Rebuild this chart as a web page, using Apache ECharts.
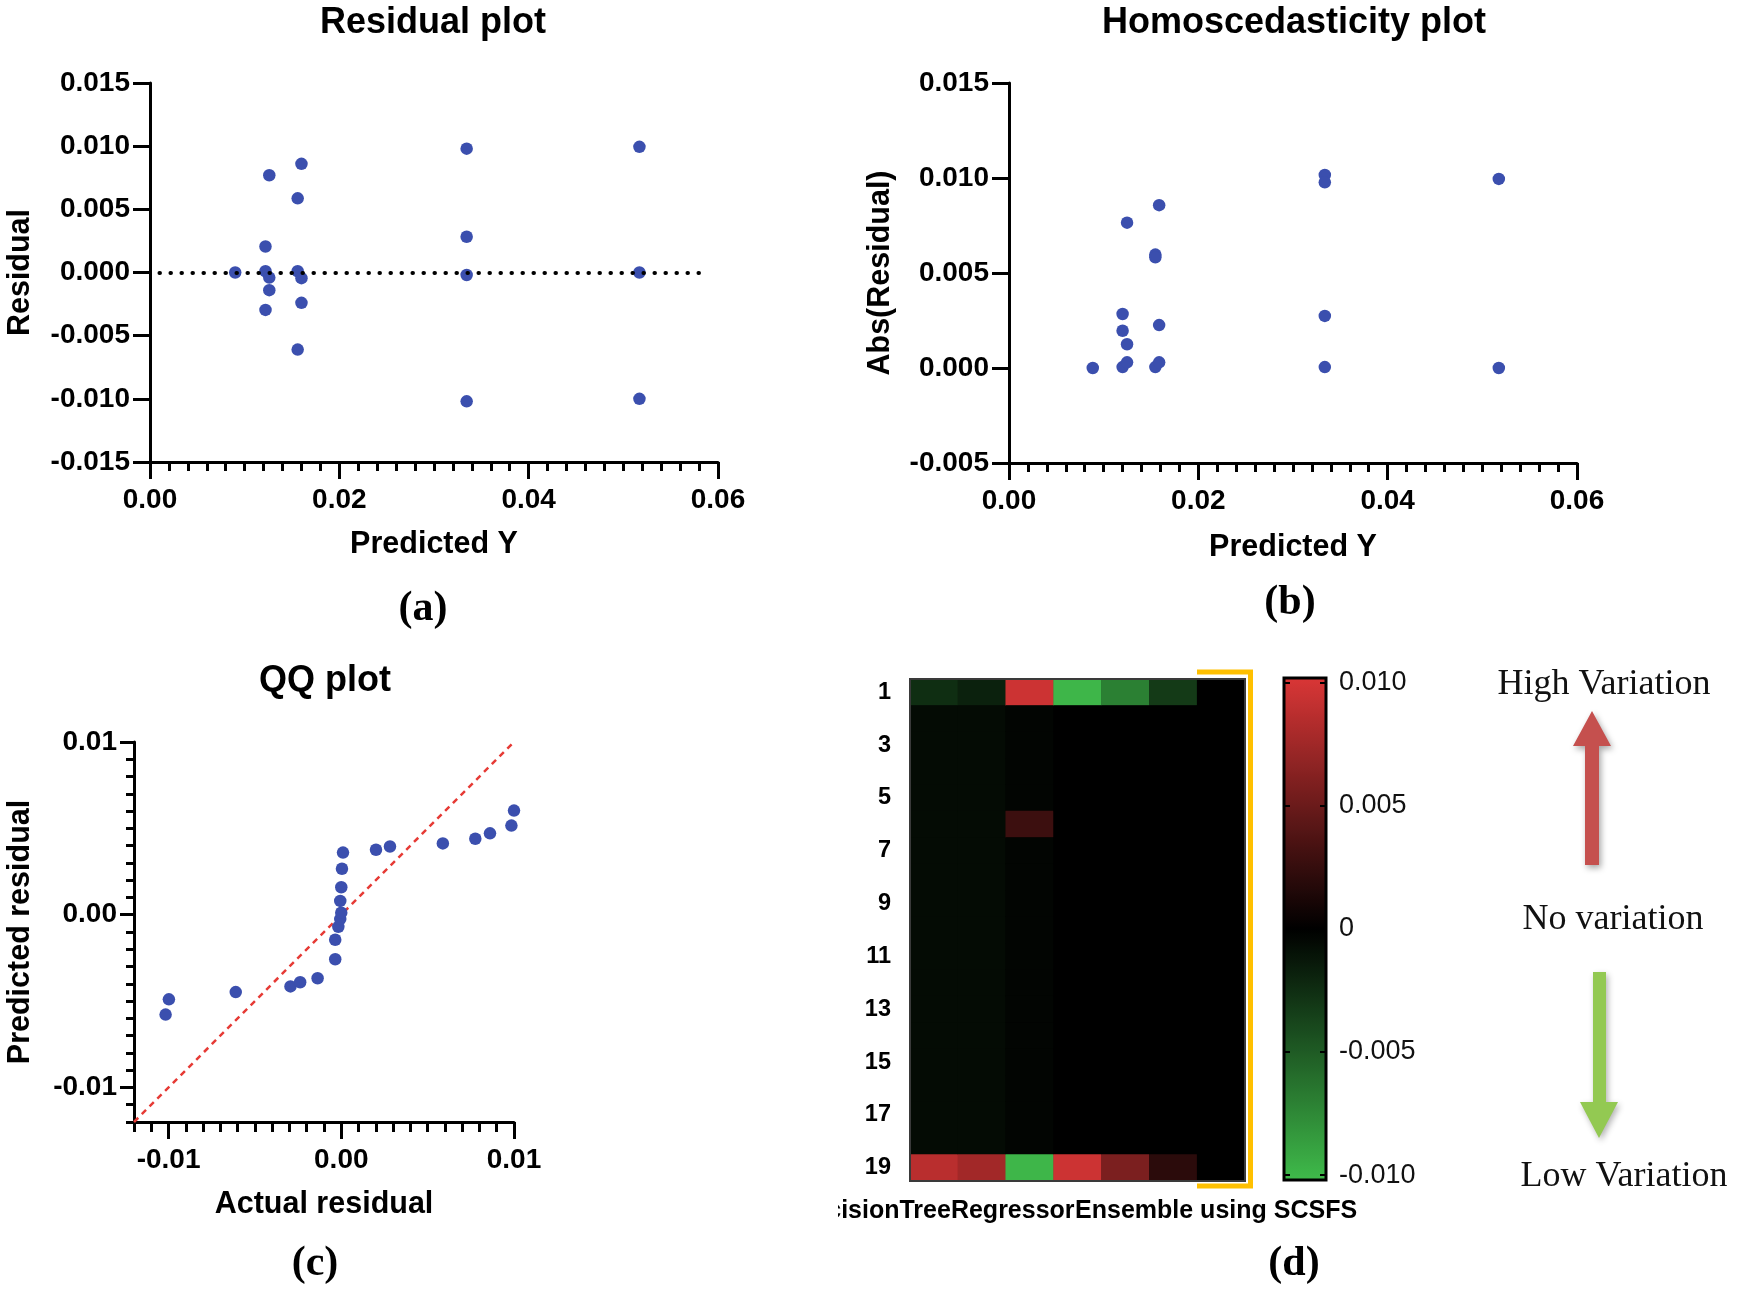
<!DOCTYPE html>
<html><head><meta charset="utf-8">
<script src="https://cdn.jsdelivr.net/npm/echarts@6/dist/echarts.min.js"></script>
<style>html,body{margin:0;padding:0;background:#fff}#c{width:1742px;height:1298px}</style>
</head><body><div id="c"></div><script>
const SANS = '"Liberation Sans", Arial, Helvetica, sans-serif';
const SERIF = '"Liberation Serif", "Times New Roman", serif';

// (a) Residual plot
const residualPredY = [0.0090, 0.0122, 0.0122, 0.0126, 0.0126, 0.0122, 0.0126, 0.0160, 0.0156, 0.0156, 0.0160, 0.0160, 0.0156, 0.03345, 0.03345, 0.03345, 0.03345, 0.0517, 0.0517, 0.0517];
const residualVal   = [0, 0.00206, 0.0001, -0.0004, -0.0014, -0.00296, 0.0077, 0.0086, 0.00587, 0.0001, -0.00045, -0.0024, -0.0061, 0.0098, 0.00283, -0.0002, -0.0102, 0.00995, 0, -0.0100];
const zeroLineRange = [0.001, 0.059];

// (b) Homoscedasticity plot
const homoPredY  = [0.00885, 0.0120, 0.01247, 0.01247, 0.0120, 0.0120, 0.01247, 0.01586, 0.01546, 0.01546, 0.01546, 0.01586, 0.01586, 0.03336, 0.03336, 0.03336, 0.03336, 0.05174, 0.05174];
const homoAbsRes = [0, 0.00005, 0.0003, 0.00125, 0.00196, 0.00284, 0.00765, 0.00857, 0.00597, 0.00583, 0.00005, 0.0003, 0.00226, 0.01016, 0.00977, 0.00274, 0.00005, 0.00995, 0];

// (c) QQ plot
const qqActual    = [-0.01017, -0.00998, -0.00611, -0.00294, -0.00238, -0.00137, -0.00035, -0.00035, -0.00017, -0.00006, 0.0, -0.00006, 0.0, 0.00004, 0.0001, 0.00201, 0.00282, 0.00588, 0.00776, 0.00861, 0.00985, 0.0100];
const qqPredicted = [-0.00578, -0.0049, -0.00448, -0.00415, -0.00391, -0.00368, -0.00258, -0.00145, -0.0007, -0.00025, 0.00012, 0.0008, 0.00159, 0.00266, 0.0036, 0.00376, 0.00395, 0.00413, 0.0044, 0.00471, 0.00516, 0.00603];
const qqRefLine = [-0.012, 0.01];
const qqMajorTicks = [-0.01, 0, 0.01];

// (d) Heatmap
const heatRows = ['1','2','3','4','5','6','7','8','9','10','11','12','13','14','15','16','17','18','19'];
const heatModels = ['DecisionTreeRegressor', 'Model 2', 'Model 3', 'Model 4', 'Model 5', 'Model 6', 'Ensemble using SCSFS'];
const heatCol1 = [-0.0025, -0.0006, -0.0006, -0.0006, -0.0006, -0.0006, -0.0006, -0.0006, -0.0006, -0.0006, -0.0006, -0.0006, -0.0006, -0.0006, -0.0006, -0.0006, -0.0006, -0.0006, 0.0087];
const heatCol2 = [-0.0018, -0.0006, -0.0006, -0.0006, -0.0006, -0.0006, -0.0006, -0.0006, -0.0006, -0.0006, -0.0006, -0.0006, -0.0006, -0.0006, -0.0006, -0.0006, -0.0006, -0.0006, 0.0076];
const heatCol3 = [0.0096, -0.0003, -0.0003, -0.0003, -0.0003, 0.0028, -0.0003, -0.0003, -0.0003, -0.0003, -0.0003, -0.0003, -0.0003, -0.0003, -0.0003, -0.0003, -0.0003, -0.0003, -0.0100];
const heatCol4 = [-0.0100, 0, 0, 0, 0, 0, 0, 0, 0, 0, 0, 0, 0, 0, 0, 0, 0, 0, 0.0096];
const heatCol5 = [-0.0070, 0, 0, 0, 0, 0, 0, 0, 0, 0, 0, 0, 0, 0, 0, 0, 0, 0, 0.0058];
const heatCol6 = [-0.0032, 0, 0, 0, 0, 0, 0, 0, 0, 0, 0, 0, 0, 0, 0, 0, 0, 0, 0.0020];
const heatCol7 = [0, 0, 0, 0, 0, 0, 0, 0, 0, 0, 0, 0, 0, 0, 0, 0, 0, 0, 0];
const colorbarTicks = [0.01, 0.005, 0, -0.005, -0.01];
const colorbarRange = [-0.0102, 0.0102];

const heatCols = [heatCol1, heatCol2, heatCol3, heatCol4, heatCol5, heatCol6, heatCol7];
const heatData = [];
heatCols.forEach((col, c) => col.forEach((v, r) => heatData.push([c, r, v])));

const zip = (a, b) => a.map((x, i) => [x, b[i]]);

const lineStyle = { color: '#000', width: 3 };
const labelStyle = { color: '#000', fontSize: 28, fontWeight: 'bold', fontFamily: SANS };
const nameStyle = { color: '#000', fontSize: 30.5, fontWeight: 'bold', fontFamily: SANS };
const MARK = '#3b4fae';

const chart = echarts.init(document.getElementById('c'), null, { renderer: 'canvas' });

chart.setOption({
  animation: false,
  backgroundColor: '#fff',
  grid: [
    { left: 150, top: 83, width: 568, height: 379 },
    { left: 1009, top: 83, width: 568, height: 380 },
    { left: 134, top: 742, width: 380, height: 380 },
    { left: 910, top: 679, width: 335, height: 502, show: true, backgroundColor: '#000', borderWidth: 0 },
    { left: 1284, top: 678, width: 42, height: 502 }
  ],
  xAxis: [
    { type: 'value', gridIndex: 0, min: 0, max: 0.06, interval: 0.02,
      axisLine: { show: true, onZero: false, lineStyle },
      axisTick: { show: true, length: 17, lineStyle },
      minorTick: { show: true, splitNumber: 10, length: 9, lineStyle },
      axisLabel: Object.assign({ margin: 24, formatter: v => v.toFixed(2) }, labelStyle),
      splitLine: { show: false }, minorSplitLine: { show: false },
      name: 'Predicted Y', nameLocation: 'middle', nameGap: 67, nameTextStyle: nameStyle },
    { type: 'value', gridIndex: 1, min: 0, max: 0.06, interval: 0.02,
      axisLine: { show: true, onZero: false, lineStyle },
      axisTick: { show: true, length: 17, lineStyle },
      minorTick: { show: true, splitNumber: 10, length: 9, lineStyle },
      axisLabel: Object.assign({ margin: 24, formatter: v => v.toFixed(2) }, labelStyle),
      splitLine: { show: false }, minorSplitLine: { show: false },
      name: 'Predicted Y', nameLocation: 'middle', nameGap: 69, nameTextStyle: nameStyle },
    { type: 'value', gridIndex: 2, min: -0.012, max: 0.01, interval: 0.001,
      axisLine: { show: true, onZero: false, lineStyle },
      axisTick: { show: true, length: 10, lineStyle },
      axisLabel: Object.assign({ margin: 24, customValues: qqMajorTicks,
        formatter: v => (Math.abs(v * 100 - Math.round(v * 100)) < 1e-6 ? v.toFixed(2) : '') }, labelStyle),
      splitLine: { show: false },
      name: 'Actual residual', nameLocation: 'middle', nameGap: 67, nameTextStyle: nameStyle },
    { type: 'value', gridIndex: 2, min: -0.012, max: 0.01, position: 'bottom',
      axisLine: { show: false, onZero: false },
      axisTick: { show: true, length: 17, customValues: qqMajorTicks, lineStyle },
      axisLabel: { show: false }, splitLine: { show: false } },
    { type: 'category', gridIndex: 3, data: heatModels,
      axisLine: { show: false }, axisTick: { show: false }, splitLine: { show: false },
      axisLabel: { interval: (i) => i === 0 || i === heatModels.length - 1, margin: 18,
        color: '#000', fontSize: 25, fontWeight: 'bold', fontFamily: SANS,
        formatter: (v, i) => (i === 0 ? '{a|' + v + '}' : '{b|' + v + '}'),
        rich: {
          a: { fontSize: 25, fontWeight: 'bold', fontFamily: SANS, color: '#000', padding: [0, 0, 0, 2] },
          b: { fontSize: 25, fontWeight: 'bold', fontFamily: SANS, color: '#000', padding: [0, 10, 0, 0] }
        } } },
    { type: 'value', gridIndex: 4, min: 0, max: 1, show: false }
  ],
  yAxis: [
    { type: 'value', gridIndex: 0, min: -0.015, max: 0.015, interval: 0.005,
      axisLine: { show: true, onZero: false, lineStyle },
      axisTick: { show: true, length: 17, lineStyle },
      axisLabel: Object.assign({ margin: 20, formatter: v => v.toFixed(3) }, labelStyle),
      splitLine: { show: false },
      name: 'Residual', nameLocation: 'middle', nameGap: 114, nameTextStyle: nameStyle },
    { type: 'value', gridIndex: 1, min: -0.005, max: 0.015, interval: 0.005,
      axisLine: { show: true, onZero: false, lineStyle },
      axisTick: { show: true, length: 17, lineStyle },
      axisLabel: Object.assign({ margin: 20, formatter: v => v.toFixed(3) }, labelStyle),
      splitLine: { show: false },
      name: 'Abs(Residual)', nameLocation: 'middle', nameGap: 113, nameTextStyle: nameStyle },
    { type: 'value', gridIndex: 2, min: -0.012, max: 0.01, interval: 0.001,
      axisLine: { show: true, onZero: false, lineStyle },
      axisTick: { show: true, length: 8, lineStyle },
      axisLabel: Object.assign({ margin: 17, customValues: qqMajorTicks,
        formatter: v => (Math.abs(v * 100 - Math.round(v * 100)) < 1e-6 ? v.toFixed(2) : '') }, labelStyle),
      splitLine: { show: false },
      name: 'Predicted residual', nameLocation: 'middle', nameGap: 98, nameTextStyle: nameStyle },
    { type: 'value', gridIndex: 2, min: -0.012, max: 0.01, position: 'left',
      axisLine: { show: false, onZero: false },
      axisTick: { show: true, length: 14, customValues: qqMajorTicks, lineStyle },
      axisLabel: { show: false }, splitLine: { show: false } },
    { type: 'category', gridIndex: 3, data: heatRows, inverse: true,
      axisLine: { show: false }, axisTick: { show: false }, splitLine: { show: false },
      axisLabel: { interval: 1, margin: 19, color: '#000', fontSize: 23.5, fontWeight: 'bold', fontFamily: SANS } },
    { type: 'value', gridIndex: 4, min: colorbarRange[0], max: colorbarRange[1], position: 'right', z: 120,
      axisLine: { show: false, onZero: false }, splitLine: { show: false },
      axisTick: { show: true, inside: true, length: 6, customValues: colorbarTicks, lineStyle: { color: '#000', width: 2 } },
      axisLabel: { customValues: colorbarTicks, margin: 13, color: '#111', fontSize: 27, fontFamily: SANS,
        formatter: v => (Math.abs(v) < 1e-9 ? '0' : v.toFixed(3)) } },
    { type: 'value', gridIndex: 4, min: colorbarRange[0], max: colorbarRange[1], position: 'left', z: 120,
      axisLine: { show: false, onZero: false }, splitLine: { show: false },
      axisTick: { show: true, inside: true, length: 6, customValues: colorbarTicks, lineStyle: { color: '#000', width: 2 } },
      axisLabel: { show: false } }
  ],
  visualMap: {
    type: 'continuous', seriesIndex: 4, min: colorbarRange[0], max: colorbarRange[1],
    calculable: false, orient: 'vertical', left: 1284, top: 678, itemWidth: 42, itemHeight: 502,
    padding: 0, inRange: { color: ['#3fba4a', '#000000', '#d93636'] }, hoverLink: false
  },
  series: [
    { type: 'scatter', xAxisIndex: 0, yAxisIndex: 0, data: zip(residualPredY, residualVal),
      symbolSize: 12.5, itemStyle: { color: MARK, opacity: 1 }, silent: true, z: 3, clip: false,
      markLine: { silent: true, symbol: ['none', 'none'], label: { show: false },
        lineStyle: { color: '#000', width: 4, type: [0.5, 10.5], cap: 'round' },
        data: [[{ coord: [zeroLineRange[0], 0] }, { coord: [zeroLineRange[1], 0] }]] } },
    { type: 'scatter', xAxisIndex: 1, yAxisIndex: 1, data: zip(homoPredY, homoAbsRes),
      symbolSize: 12.5, itemStyle: { color: MARK, opacity: 1 }, silent: true, clip: false },
    { type: 'line', xAxisIndex: 2, yAxisIndex: 2, data: zip(qqRefLine, qqRefLine),
      symbol: 'none', silent: true, z: 1, clip: false,
      lineStyle: { color: '#e63b36', width: 2.5, type: [6, 5] } },
    { type: 'scatter', xAxisIndex: 2, yAxisIndex: 2, data: zip(qqActual, qqPredicted),
      symbolSize: 12.5, itemStyle: { color: MARK, opacity: 1 }, silent: true, z: 3, clip: false },
    { type: 'heatmap', xAxisIndex: 4, yAxisIndex: 4, data: heatData, silent: true,
      itemStyle: { borderWidth: 0 } }
  ],
  graphic: [
    { type: 'text', x: 433, y: 23, z: 50, style: { text: 'Residual plot', font: 'bold 36px ' + SANS, fill: '#000', align: 'center', verticalAlign: 'middle' } },
    { type: 'text', x: 1294, y: 23, z: 50, style: { text: 'Homoscedasticity plot', font: 'bold 36px ' + SANS, fill: '#000', align: 'center', verticalAlign: 'middle' } },
    { type: 'text', x: 325, y: 681, z: 50, style: { text: 'QQ plot', font: 'bold 36px ' + SANS, fill: '#000', align: 'center', verticalAlign: 'middle' } },
    { type: 'text', x: 423, y: 609, z: 50, style: { text: '(a)', font: 'bold 42px ' + SERIF, fill: '#000', align: 'center', verticalAlign: 'middle' } },
    { type: 'text', x: 1290, y: 603, z: 50, style: { text: '(b)', font: 'bold 42px ' + SERIF, fill: '#000', align: 'center', verticalAlign: 'middle' } },
    { type: 'text', x: 315, y: 1264, z: 50, style: { text: '(c)', font: 'bold 42px ' + SERIF, fill: '#000', align: 'center', verticalAlign: 'middle' } },
    { type: 'text', x: 1294, y: 1264, z: 50, style: { text: '(d)', font: 'bold 42px ' + SERIF, fill: '#000', align: 'center', verticalAlign: 'middle' } },
    { type: 'text', x: 1604, y: 685, z: 50, style: { text: 'High Variation', font: '36px ' + SERIF, fill: '#111', align: 'center', verticalAlign: 'middle' } },
    { type: 'text', x: 1613, y: 920, z: 50, style: { text: 'No variation', font: '36px ' + SERIF, fill: '#111', align: 'center', verticalAlign: 'middle' } },
    { type: 'text', x: 1624, y: 1177, z: 50, style: { text: 'Low Variation', font: '36px ' + SERIF, fill: '#111', align: 'center', verticalAlign: 'middle' } },
    { type: 'polygon', z: 50, shape: { points: [[1585, 865], [1585, 746], [1573, 746], [1592, 711], [1611, 746], [1599, 746], [1599, 865]] },
      style: { fill: '#c5504e', shadowBlur: 6, shadowColor: 'rgba(0,0,0,0.35)', shadowOffsetX: 2, shadowOffsetY: 3 } },
    { type: 'polygon', z: 50, shape: { points: [[1593, 972], [1606, 972], [1606, 1102], [1618, 1102], [1599, 1138], [1580, 1102], [1593, 1102]] },
      style: { fill: '#93c952', shadowBlur: 6, shadowColor: 'rgba(0,0,0,0.3)', shadowOffsetX: 2, shadowOffsetY: 3 } },
    { type: 'rect', z: 100, shape: { x: 910, y: 679, width: 335, height: 502 }, style: { fill: 'none', stroke: '#3a3a3a', lineWidth: 2 } },
    { type: 'polyline', z: 100, shape: { points: [[1197, 672], [1250.5, 672], [1250.5, 1186], [1197, 1186]] }, style: { fill: 'none', stroke: '#ffc000', lineWidth: 5 } },
    { type: 'rect', z: 110, shape: { x: 1284, y: 678, width: 42, height: 502 }, style: { fill: 'none', stroke: '#000', lineWidth: 3 } },
    { type: 'rect', z: 200, shape: { x: 740, y: 1193, width: 98, height: 36 }, style: { fill: '#fff', stroke: 'none' } }
  ]
});
</script></body></html>
